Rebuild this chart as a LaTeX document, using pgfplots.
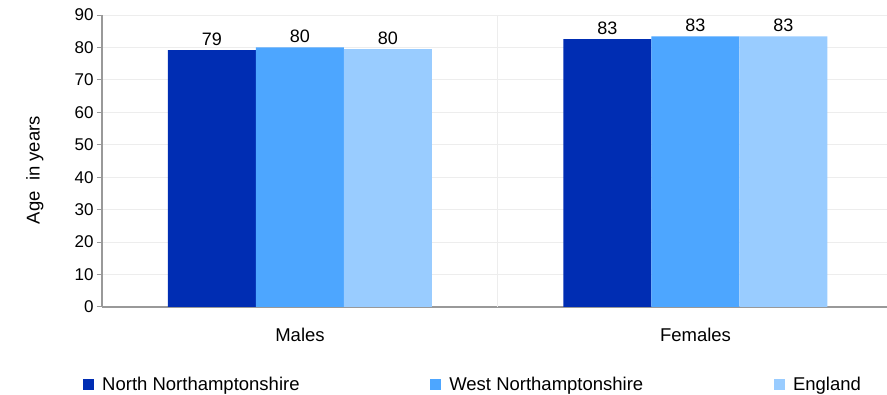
\documentclass[border=0pt]{standalone}
\usepackage{pgfplots}
\pgfplotsset{compat=1.18}
\usepackage{fontspec}
\setmainfont{Liberation Sans}
\definecolor{c1}{HTML}{002DB3}
\definecolor{c2}{HTML}{4DA6FF}
\definecolor{c3}{HTML}{99CCFF}
\definecolor{gridc}{HTML}{EDEDED}
\definecolor{axc}{HTML}{999999}
\pgfplotsset{sqleg/.style={legend image code/.code={\fill[##1] (0pt,-5.5pt) rectangle (11pt,5.5pt);}}}
\begin{document}
\begin{tikzpicture}[font=\fontsize{18.5}{22}\selectfont]
\begin{axis}[
  at={(0,0)}, anchor=south west,
  scale only axis, width=785pt, height=292pt,
  /pgf/number format/assume math mode=true,
  ymin=0, ymax=90, ytick={0,10,...,90},
  xmin=-0.5006, xmax=1.4842, xtick={0,1}, xticklabels={Males,Females},
  ybar=0pt, bar width=88pt,
  axis lines*=left,
  axis line style={axc, line width=1.5pt},
  tick align=outside,
  ytick style={axc, line width=1pt},
  major tick length=5pt,
  x tick style={draw=none},
  ymajorgrids,
  major grid style={gridc, line width=1pt},
  extra x ticks={0.5}, extra x tick labels={},
  extra x tick style={grid=major, major grid style={gridc, line width=1pt}, tick style={draw=none}},
  yticklabel style={font=\fontsize{17}{20}\selectfont},
  xticklabel style={yshift=-13pt, font=\fontsize{18.5}{22}\selectfont},
  every axis y label/.style={at={(axis description cs:-0.0854,0.469)}, rotate=90, anchor=center, font=\fontsize{18.5}{22}\selectfont},
  ylabel={Age~ in years},
  nodes near coords={\pgfmathprintnumber[fixed,precision=0]{\pgfplotspointmeta}},
  nodes near coords style={black, font=\fontsize{18}{21}\selectfont, yshift=1pt},
  legend columns=3,
  legend cell align=left,
  legend style={draw=none, fill=none, at={(axis description cs:-0.0242,-0.265)}, anchor=west,
    inner sep=0pt, font=\fontsize{18.5}{22}\selectfont, nodes={inner sep=0pt},
    /tikz/every odd column/.append style={column sep=8pt},
    /tikz/every even column/.append style={column sep=130.7pt}},
]
\addplot[fill=c1, draw=none, sqleg] coordinates {(0,79.2) (1,82.6)};
\addplot[fill=c2, draw=none, sqleg] coordinates {(0,80.0) (1,83.4)};
\addplot[fill=c3, draw=none, sqleg] coordinates {(0,79.5) (1,83.4)};
\legend{North Northamptonshire, West Northamptonshire, England}
\end{axis}
\pgfresetboundingbox
\useasboundingbox (-102pt,-88pt) rectangle (785pt,307pt);
\end{tikzpicture}
\end{document}
